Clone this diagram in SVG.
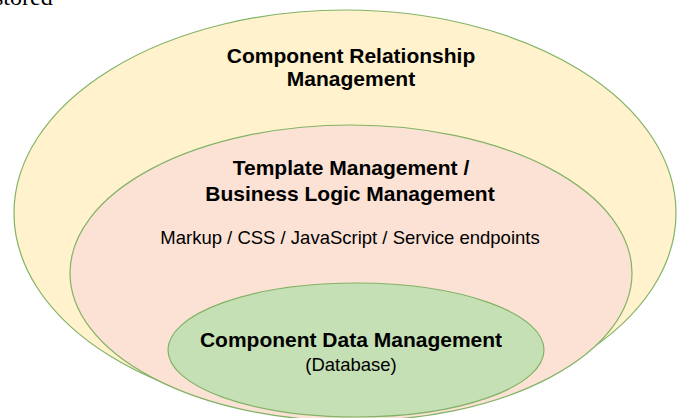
<svg xmlns="http://www.w3.org/2000/svg" width="677" height="418" viewBox="0 0 677 418">
  <style>
    .ring { stroke: #82b366; stroke-width: 1.2; }
    .title { font-family: "Liberation Sans", Arial, sans-serif; font-weight: bold; font-size: 21px; fill: #000; text-anchor: middle; }
    .sub { font-family: "Liberation Sans", Arial, sans-serif; font-size: 18.5px; fill: #000; text-anchor: middle; }
  </style>
  <rect x="0" y="0" width="677" height="418" fill="#ffffff"/>
  <text x="-6" y="5" font-family="'Liberation Serif', 'Times New Roman', serif" font-size="24" fill="#000">stored</text>
  <g id="relationship">
    <ellipse class="ring" cx="345" cy="213" rx="331" ry="203" fill="#fff2cc"/>
    <text class="title" x="351" y="63">Component Relationship</text>
    <text class="title" x="351" y="86">Management</text>
  </g>
  <g id="template">
    <ellipse class="ring" cx="351" cy="273" rx="281" ry="148" fill="#fbe2d5"/>
    <text class="title" x="351" y="175">Template Management /</text>
    <text class="title" x="350" y="201">Business Logic Management</text>
    <text class="sub" x="350" y="244">Markup / CSS / JavaScript / Service endpoints</text>
  </g>
  <g id="data">
    <ellipse class="ring" cx="356" cy="350" rx="188" ry="67" fill="#c5e0b4"/>
    <text class="title" x="351" y="347">Component Data Management</text>
    <text class="sub" x="351" y="371">(Database)</text>
  </g>
  <g id="connectors"></g>
</svg>
